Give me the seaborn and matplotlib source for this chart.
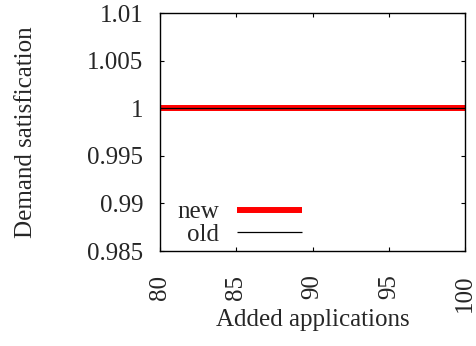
import numpy as np
import pandas as pd
from matplotlib import pyplot as plt
import seaborn as sns

# values: both variants stay at full satisfaction
added_apps = [80, 85, 90, 95, 100]
new_vals = [1.0, 1.0, 1.0, 1.0, 1.0]
old_vals = [1.0, 1.0, 1.0, 1.0, 1.0]
y_ticks = [0.985, 0.99, 0.995, 1, 1.005, 1.01]
y_tick_labels = ["0.985", "0.99", "0.995", "1", "1.005", "1.01"]

sns.set_style("ticks")
plt.rcParams["font.family"] = ["Liberation Serif", "DejaVu Serif"]
plt.rcParams["xtick.direction"] = "in"
plt.rcParams["ytick.direction"] = "in"

df = pd.DataFrame({
    "apps": added_apps * 2,
    "value": new_vals + old_vals,
    "series": ["new"] * len(new_vals) + ["old"] * len(old_vals),
})

fig = plt.figure(figsize=(4.77, 3.46), dpi=100)
ax = fig.add_axes([160 / 477, 1 - 251 / 346, 305 / 477, 238 / 346])

sns.lineplot(data=df[df.series == "new"], x="apps", y="value", ax=ax,
             color="#ff0000", linewidth=4.3, label="new", solid_capstyle="butt")
sns.lineplot(data=df[df.series == "old"], x="apps", y="value", ax=ax,
             color="black", linewidth=0.9, label="old", solid_capstyle="butt")

ax.set_xlim(80, 100)
ax.set_ylim(0.985, 1.01)
ax.set_xticks([80, 85, 90, 95, 100])
ax.set_xticklabels(["80", "85", "90", "95", "100"], rotation=90, fontsize=18)
ax.set_yticks(y_ticks)
ax.set_yticklabels(y_tick_labels, fontsize=18)
ax.tick_params(axis="both", length=3, width=0.8, top=True, right=True, color="black")
ax.tick_params(axis="y", pad=12)
ax.tick_params(axis="x", pad=17)
for s in ax.spines.values():
    s.set_visible(True)
    s.set_linewidth(1.0)
    s.set_color("black")

ax.set_xlabel("Added applications", fontsize=18, labelpad=-2)
ax.set_ylabel("Demand satisfication", fontsize=18, labelpad=36)

leg = ax.legend(loc="lower left", bbox_to_anchor=(0.0, -0.052), markerfirst=False,
                frameon=False, fontsize=18, handlelength=2.6, handletextpad=0.7,
                labelspacing=0.0, borderaxespad=0.3)
for h in leg.get_lines():
    h.set_solid_capstyle("butt")

fig.savefig("out.png", dpi=100)
